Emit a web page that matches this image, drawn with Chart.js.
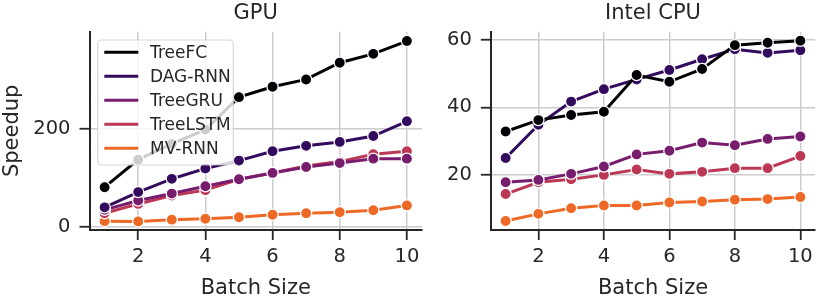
<!DOCTYPE html>
<html><head><meta charset="utf-8">
<script src="https://cdn.jsdelivr.net/npm/chart.js@4.4.1/dist/chart.umd.min.js"></script>
<style>
html,body{margin:0;padding:0;background:#fff;}
#wrap{position:relative;width:822px;height:302px;overflow:hidden;background:#fff;}
canvas{position:absolute;top:0;}
#c1{left:0;} #c2{left:440px;}
</style></head><body>
<div id="wrap"><canvas id="c1" width="440" height="302"></canvas><canvas id="c2" width="382" height="302"></canvas></div>
<script>
// ---- data ----
const batchSizes = [1, 2, 3, 4, 5, 6, 7, 8, 9, 10];
const seriesNames = ['TreeFC', 'DAG-RNN', 'TreeGRU', 'TreeLSTM', 'MV-RNN'];
const seriesColors = ['#000004', '#320a5e', '#781c6d', '#bc3754', '#ed6925'];

const gpuTreeFC   = [81, 137, 169, 198, 264, 285, 300, 334, 352, 378];
const gpuDagRnn   = [40, 71, 98, 119, 135, 154, 165, 173, 185, 215];
const gpuTreeGru  = [35, 54, 68, 83, 97, 110, 122, 130, 139, 139];
const gpuTreeLstm = [28, 47, 64, 75, 97, 110, 124, 133, 148, 154];
const gpuMvRnn    = [12, 11.5, 15, 17, 20, 25, 28, 30, 34, 44];

const cpuTreeFC   = [32.8, 36.2, 37.7, 38.7, 49.6, 47.6, 51.4, 58.5, 59.2, 59.8];
const cpuDagRnn   = [24.9, 34.8, 41.7, 45.4, 48.3, 51.1, 54.3, 57.3, 56.2, 57.0];
const cpuTreeGru  = [17.7, 18.4, 20.2, 22.4, 26.0, 27.1, 29.5, 28.7, 30.6, 31.3];
const cpuTreeLstm = [14.2, 17.7, 18.6, 19.9, 21.5, 20.2, 20.8, 21.9, 21.9, 25.5];
const cpuMvRnn    = [6.2, 8.3, 10.0, 10.8, 10.8, 11.7, 12.0, 12.5, 12.7, 13.3];

const xTicks = [2, 4, 6, 8, 10];
const gpuYTicks = [0, 200];
const cpuYTicks = [20, 40, 60];
const gpuTitle = 'GPU';
const cpuTitle = 'Intel CPU';
const xLabel = 'Batch Size';
const yLabel = 'Speedup';

// ---- style ----
const FONT = "'DejaVu Sans', sans-serif";
const INK = '#262626';
const PLOT_TOP = 31.7;
const PLOT_BOTTOM = 230;
const H = 302;

const panelDecor = {
  id: 'panelDecor',
  afterDraw(chart, args, opts) {
    const ctx = chart.ctx, ca = chart.chartArea;
    ctx.save();
    // title
    ctx.fillStyle = INK;
    ctx.font = '21px ' + FONT;
    ctx.textAlign = 'center';
    ctx.textBaseline = 'alphabetic';
    ctx.fillText(opts.title, (ca.left + ca.right) / 2, 18.5);
    if (opts.legend) {
      const bx = 97.7, by = 40, bw = 135.6, bh = 125, r = 4;
      ctx.beginPath();
      ctx.moveTo(bx + r, by);
      ctx.arcTo(bx + bw, by, bx + bw, by + bh, r);
      ctx.arcTo(bx + bw, by + bh, bx, by + bh, r);
      ctx.arcTo(bx, by + bh, bx, by, r);
      ctx.arcTo(bx, by, bx + bw, by, r);
      ctx.closePath();
      ctx.fillStyle = 'rgba(255,255,255,0.8)';
      ctx.fill();
      ctx.strokeStyle = 'rgba(204,204,204,0.8)';
      ctx.lineWidth = 1.2;
      ctx.stroke();
      ctx.font = '17px ' + FONT;
      ctx.textAlign = 'left';
      ctx.textBaseline = 'middle';
      chart.data.datasets.forEach((ds, i) => {
        const y = 52.3 + i * 24;
        ctx.strokeStyle = ds.borderColor;
        ctx.lineWidth = 3;
        ctx.lineCap = 'butt';
        ctx.beginPath();
        ctx.moveTo(104.3, y);
        ctx.lineTo(138.3, y);
        ctx.stroke();
        ctx.fillStyle = INK;
        ctx.fillText(ds.label, 150, y + 1);
      });
    }
    ctx.restore();
  }
};

function makeDatasets(seriesList) {
  return seriesList.map((vals, i) => ({
    label: seriesNames[i],
    data: vals.map((v, j) => ({ x: batchSizes[j], y: v })),
    borderColor: seriesColors[i],
    backgroundColor: seriesColors[i],
    pointBackgroundColor: seriesColors[i],
    pointBorderColor: '#ffffff',
    pointBorderWidth: 1.3,
    pointRadius: 5.6,
    borderWidth: 3,
    tension: 0,
    clip: false
  }));
}

function makeOptions(cfg) {
  return {
    responsive: false,
    animation: false,
    devicePixelRatio: 1,
    layout: { padding: { top: PLOT_TOP, right: cfg.padRight, left: 0, bottom: 0 } },
    plugins: {
      legend: { display: false },
      tooltip: { enabled: false },
      title: { display: false },
      panelDecor: { title: cfg.title, legend: cfg.legend }
    },
    scales: {
      x: {
        type: 'linear', min: 0.55, max: 10.45,
        afterBuildTicks: s => { s.ticks = xTicks.map(v => ({ value: v })); },
        afterFit: s => { s.height = H - PLOT_BOTTOM; },
        grid: { color: '#cccccc', lineWidth: 1.5, tickLength: 10, tickColor: INK, tickWidth: 1.8 },
        border: { color: INK, width: 2 },
        ticks: { font: { family: FONT, size: 19.5 }, color: INK, padding: 5, maxRotation: 0, autoSkip: false },
        title: { display: true, text: xLabel, font: { family: FONT, size: 21 }, color: INK, padding: { top: 0, bottom: 1 } }
      },
      y: {
        type: 'linear', min: cfg.ymin, max: cfg.ymax,
        afterBuildTicks: s => { s.ticks = cfg.yTicks.map(v => ({ value: v })); },
        afterFit: s => { s.width = cfg.left; },
        grid: { color: '#cccccc', lineWidth: 1.5, tickLength: 10, tickColor: INK, tickWidth: 1.8 },
        border: { color: INK, width: 2 },
        ticks: { font: { family: FONT, size: 19.5 }, color: INK, padding: 9 },
        title: { display: !!cfg.ylabel, text: cfg.ylabel || '', font: { family: FONT, size: 21 }, color: INK, padding: { top: 0, bottom: 0 } }
      }
    }
  };
}

new Chart(document.getElementById('c1'), {
  type: 'line',
  data: { datasets: makeDatasets([gpuTreeFC, gpuDagRnn, gpuTreeGru, gpuTreeLstm, gpuMvRnn]) },
  options: makeOptions({ title: gpuTitle, legend: true, ymin: -6, ymax: 397, yTicks: gpuYTicks, left: 89.5, padRight: 18, ylabel: yLabel }),
  plugins: [panelDecor]
});

new Chart(document.getElementById('c2'), {
  type: 'line',
  data: { datasets: makeDatasets([cpuTreeFC, cpuDagRnn, cpuTreeGru, cpuTreeLstm, cpuMvRnn]) },
  options: makeOptions({ title: cpuTitle, legend: false, ymin: 3.5, ymax: 62.5, yTicks: cpuYTicks, left: 50.9, padRight: 0 }),
  plugins: [panelDecor]
});
</script>
</body></html>
